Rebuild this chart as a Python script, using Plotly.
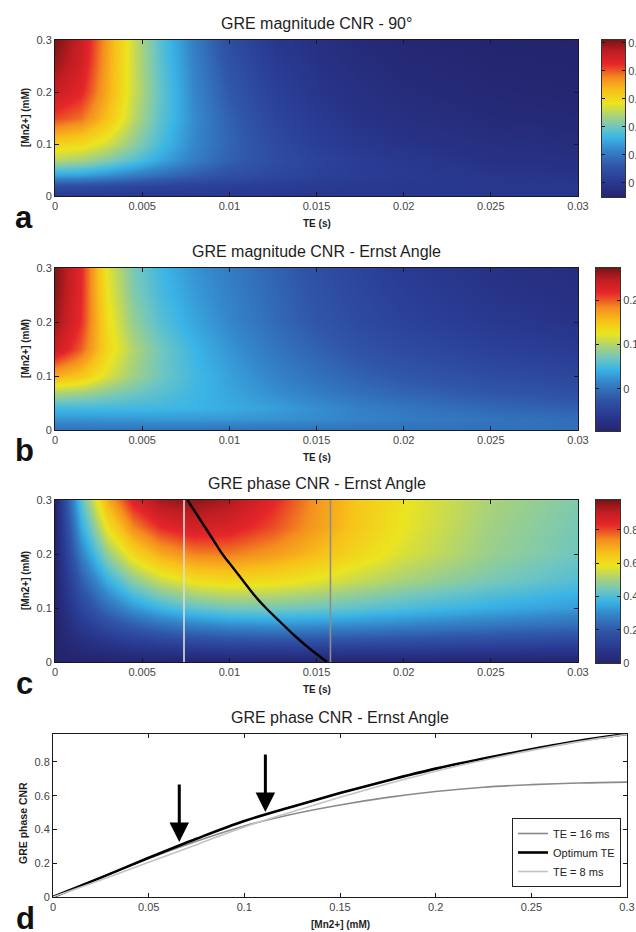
import plotly.graph_objects as go

W, H = 636, 932

# ---- sampled CNR maps: rows = [Mn2+] (mM), columns = TE (s) ----
TE_S = [0, 0.0015, 0.003, 0.0045, 0.006, 0.008, 0.01, 0.0125, 0.015, 0.0175, 0.02, 0.025, 0.03]
MN_MM = [0, 0.02, 0.04, 0.07, 0.1, 0.15, 0.2, 0.25, 0.3]

MAG_CNR_90 = [
    [0, 0, 0, 0, 0, 0, 0, 0, 0, 0, 0, 0, 0],
    [0.045, 0.042, 0.037, 0.032, 0.026, 0.02, 0.015, 0.01, 0.005, 0.003, 0.0, -0.002, -0.004],
    [0.15, 0.145, 0.13, 0.11, 0.092, 0.07, 0.05, 0.035, 0.02, 0.01, 0.005, -0.005, -0.01],
    [0.25, 0.24, 0.215, 0.185, 0.15, 0.11, 0.075, 0.045, 0.025, 0.01, 0.0, -0.015, -0.02],
    [0.31, 0.3, 0.27, 0.225, 0.175, 0.12, 0.08, 0.04, 0.015, 0.0, -0.01, -0.022, -0.028],
    [0.41, 0.39, 0.33, 0.255, 0.19, 0.125, 0.075, 0.03, 0.005, -0.012, -0.022, -0.033, -0.038],
    [0.46, 0.43, 0.35, 0.265, 0.195, 0.12, 0.065, 0.02, -0.005, -0.02, -0.03, -0.04, -0.044],
    [0.49, 0.45, 0.355, 0.265, 0.19, 0.115, 0.055, 0.01, -0.012, -0.027, -0.036, -0.044, -0.047],
    [0.51, 0.46, 0.36, 0.265, 0.185, 0.11, 0.045, 0.0, -0.02, -0.033, -0.042, -0.048, -0.05],
]

MAG_CNR_ERNST = [
    [0, 0, 0, 0, 0, 0, 0, 0, 0, 0, 0, 0, 0],
    [0.025, 0.025, 0.026, 0.027, 0.028, 0.028, 0.027, 0.024, 0.02, 0.014, 0.009, 0.002, -0.003],
    [0.05, 0.05, 0.05, 0.049, 0.048, 0.045, 0.04, 0.032, 0.022, 0.012, 0.004, -0.007, -0.014],
    [0.1, 0.095, 0.083, 0.072, 0.061, 0.048, 0.036, 0.022, 0.009, -0.002, -0.01, -0.022, -0.03],
    [0.165, 0.15, 0.118, 0.092, 0.071, 0.05, 0.033, 0.015, 0.0, -0.012, -0.021, -0.034, -0.042],
    [0.24, 0.2, 0.138, 0.1, 0.072, 0.046, 0.026, 0.005, -0.012, -0.026, -0.036, -0.05, -0.058],
    [0.26, 0.215, 0.133, 0.088, 0.06, 0.036, 0.017, -0.004, -0.022, -0.036, -0.047, -0.061, -0.069],
    [0.268, 0.218, 0.127, 0.08, 0.053, 0.03, 0.013, -0.007, -0.026, -0.041, -0.053, -0.067, -0.075],
    [0.272, 0.22, 0.122, 0.075, 0.048, 0.025, 0.01, -0.01, -0.03, -0.045, -0.058, -0.072, -0.08],
]

PHASE_CNR_ERNST = [
    [0, 0, 0, 0, 0, 0, 0, 0, 0, 0, 0, 0, 0],
    [0, 0.023, 0.041, 0.056, 0.068, 0.079, 0.086, 0.091, 0.092, 0.091, 0.088, 0.082, 0.075],
    [0, 0.049, 0.088, 0.118, 0.142, 0.164, 0.177, 0.185, 0.185, 0.182, 0.176, 0.163, 0.15],
    [0, 0.092, 0.164, 0.218, 0.258, 0.295, 0.315, 0.323, 0.32, 0.31, 0.298, 0.272, 0.25],
    [0, 0.138, 0.243, 0.32, 0.376, 0.422, 0.445, 0.449, 0.437, 0.418, 0.398, 0.36, 0.33],
    [0, 0.208, 0.361, 0.469, 0.542, 0.596, 0.614, 0.604, 0.575, 0.54, 0.505, 0.45, 0.405],
    [0, 0.283, 0.483, 0.616, 0.699, 0.752, 0.758, 0.724, 0.67, 0.615, 0.565, 0.49, 0.44],
    [0, 0.356, 0.594, 0.746, 0.831, 0.874, 0.861, 0.8, 0.72, 0.645, 0.585, 0.5, 0.45],
    [0, 0.421, 0.693, 0.854, 0.937, 0.964, 0.93, 0.84, 0.73, 0.65, 0.59, 0.51, 0.46],
]

# optimum echo time as a function of concentration
OPT_MN = [0, 0.025, 0.05, 0.075, 0.1, 0.125, 0.15, 0.175, 0.2, 0.225, 0.25, 0.275, 0.3]
OPT_TE = [0.0156, 0.0146, 0.0137, 0.0129, 0.0121, 0.0114, 0.0108, 0.0102, 0.0096, 0.0091, 0.0086, 0.0081, 0.0076]

# fixed echo times marked on the phase map
TE_MARKS = [0.0074, 0.0158]
TE_MARK_COLORS = ["#dcdcdc", "#8c8c8c"]

# phase CNR profiles
CURVE_MN = [0, 0.025, 0.05, 0.075, 0.1, 0.125, 0.15, 0.175, 0.2, 0.225, 0.25, 0.275, 0.3]
CNR_TE16 = [0, 0.115, 0.228, 0.33, 0.42, 0.49, 0.545, 0.59, 0.625, 0.65, 0.665, 0.675, 0.68]
CNR_OPT = [0, 0.115, 0.232, 0.345, 0.45, 0.535, 0.615, 0.69, 0.76, 0.82, 0.875, 0.925, 0.965]
CNR_TE8 = [0, 0.1, 0.205, 0.31, 0.415, 0.505, 0.59, 0.67, 0.745, 0.81, 0.868, 0.92, 0.963]

ARROW_MN = [0.066, 0.111]
ARROW_TIP = [0.325, 0.503]
ARROW_TAIL = [0.675, 0.852]

TE_TICKS = [0, 0.005, 0.01, 0.015, 0.02, 0.025, 0.03]
TE_TICK_TEXT = ["0", "0.005", "0.01", "0.015", "0.02", "0.025", "0.03"]
MN_TICKS = [0, 0.1, 0.2, 0.3]
MN_TICK_TEXT = ["0", "0.1", "0.2", "0.3"]

JET = [
    [0.0, "#24246e"], [0.1, "#293a92"], [0.2, "#3056a8"], [0.3, "#3484c8"],
    [0.38, "#3ab4e6"], [0.45, "#70c6c0"], [0.52, "#a9d27a"], [0.6, "#ece41f"],
    [0.68, "#f8c11a"], [0.76, "#f48d1f"], [0.85, "#e6262a"], [0.93, "#bf1d22"],
    [1.0, "#7a1515"],
]

FONT = "Liberation Sans, Arial, sans-serif"


def fx(p):
    return p / W


def fy(p):
    return 1 - p / H


def label(text, x, y, size, color="#1e1e1e", angle=0):
    return dict(text=text, x=fx(x), y=fy(y), xref="paper", yref="paper",
                xanchor="center", yanchor="middle", showarrow=False, textangle=angle,
                font=dict(family=FONT, size=size, color=color))


tick_font = dict(family=FONT, size=11, color="#454545")
frame = dict(showline=True, linecolor="#1a1a1a", linewidth=1, mirror="ticks",
             ticks="inside", ticklen=4, tickcolor="#1a1a1a", showgrid=False,
             zeroline=False, tickfont=tick_font, automargin=False)

panels = [
    dict(letter="a", title="GRE magnitude CNR - 90°", z=MAG_CNR_90, top=40, bottom=196,
         cbx=(602, 625), crange=(-0.05, 0.51), cticks=[0, 0.1, 0.2, 0.3, 0.4, 0.5],
         ctext=["0", "0.1", "0.2", "0.3", "0.4", "0.5"]),
    dict(letter="b", title="GRE magnitude CNR - Ernst Angle", z=MAG_CNR_ERNST, top=268, bottom=430,
         cbx=(596, 620), crange=(-0.095, 0.273), cticks=[0, 0.1, 0.2], ctext=["0", "0.1", "0.2"]),
    dict(letter="c", title="GRE phase CNR - Ernst Angle", z=PHASE_CNR_ERNST, top=500, bottom=662,
         cbx=(596, 620), crange=(0.0, 0.98), cticks=[0, 0.2, 0.4, 0.6, 0.8],
         ctext=["0", "0.2", "0.4", "0.6", "0.8"]),
]

fig = go.Figure()
layout_axes = {}
annotations = []
PLOT_L, PLOT_R = 55, 578

for i, p in enumerate(panels):
    nm, nc = 2 * i + 1, 2 * i + 2
    xm, ym = ("x", "y") if nm == 1 else (f"x{nm}", f"y{nm}")
    xc, yc = f"x{nc}", f"y{nc}"
    lo, hi = p["crange"]

    fig.add_trace(go.Contour(
        x=TE_S, y=MN_MM, z=p["z"], colorscale=JET, zmin=lo, zmax=hi,
        contours=dict(coloring="heatmap", showlines=False), line=dict(width=0),
        showscale=False, hoverinfo="skip", showlegend=False, xaxis=xm, yaxis=ym))

    # colour bar drawn as its own small axis
    fig.add_trace(go.Heatmap(
        x=[0, 1], y=[lo, hi], z=[[lo, lo], [hi, hi]], zsmooth="best",
        colorscale=JET, zmin=lo, zmax=hi, showscale=False, hoverinfo="skip",
        xaxis=xc, yaxis=yc))

    if i == 2:
        for te, col in zip(TE_MARKS, TE_MARK_COLORS):
            fig.add_trace(go.Scatter(x=[te, te], y=[MN_MM[0], MN_MM[-1]], mode="lines",
                                     line=dict(color=col, width=1.6), showlegend=False,
                                     hoverinfo="skip", xaxis=xm, yaxis=ym))
        fig.add_trace(go.Scatter(x=OPT_TE, y=OPT_MN, mode="lines",
                                 line=dict(color="#000000", width=2.4, shape="spline"),
                                 showlegend=False, hoverinfo="skip", xaxis=xm, yaxis=ym))

    kx = "xaxis" if nm == 1 else f"xaxis{nm}"
    ky = "yaxis" if nm == 1 else f"yaxis{nm}"
    layout_axes[kx] = dict(frame, domain=[fx(PLOT_L), fx(PLOT_R)], anchor=ym, range=[0, 0.03],
                           tickvals=TE_TICKS, ticktext=TE_TICK_TEXT)
    layout_axes[ky] = dict(frame, domain=[fy(p["bottom"]), fy(p["top"])], anchor=xm,
                           range=[0, 0.3], tickvals=MN_TICKS, ticktext=MN_TICK_TEXT)
    layout_axes[f"xaxis{nc}"] = dict(domain=[fx(p["cbx"][0]), fx(p["cbx"][1])], anchor=yc,
                                     range=[0, 1], showticklabels=False, ticks="",
                                     showline=True, mirror=True, linecolor="#333",
                                     linewidth=1, showgrid=False, zeroline=False,
                                     automargin=False)
    layout_axes[f"yaxis{nc}"] = dict(domain=[fy(p["bottom"] + 1), fy(p["top"])], anchor=xc,
                                     side="right", range=[lo, hi], tickvals=p["cticks"],
                                     ticktext=p["ctext"], ticks="inside", ticklen=3,
                                     tickcolor="#1a1a1a", mirror="ticks", showline=True,
                                     linecolor="#333", linewidth=1, showgrid=False,
                                     zeroline=False, tickfont=tick_font, automargin=False)

    mid = (PLOT_L + PLOT_R) / 2
    annotations += [
        label(p["title"], mid, p["top"] - 17, 16),
        label("<b>TE (s)</b>", mid, p["bottom"] + 27, 10),
        label("<b>[Mn2+] (mM)</b>", 25, (p["top"] + p["bottom"]) / 2, 10, angle=-90),
        label(f"<b>{p['letter']}</b>", 24, p["bottom"] + 21, 31, color="#111"),
    ]

# ---- panel d: phase CNR profiles ----
D_L, D_R, D_T, D_B = 53, 627, 734, 897
fig.add_trace(go.Scatter(x=CURVE_MN, y=CNR_TE16, mode="lines", name="TE = 16 ms",
                         line=dict(color="#8a8a8a", width=1.6, shape="spline"),
                         xaxis="x7", yaxis="y7"))
fig.add_trace(go.Scatter(x=CURVE_MN, y=CNR_OPT, mode="lines", name="Optimum TE",
                         line=dict(color="#000000", width=2.6, shape="spline"),
                         xaxis="x7", yaxis="y7"))
fig.add_trace(go.Scatter(x=CURVE_MN, y=CNR_TE8, mode="lines", name="TE = 8 ms",
                         line=dict(color="#c4c4c4", width=1.6, shape="spline"),
                         xaxis="x7", yaxis="y7"))

layout_axes["xaxis7"] = dict(frame, domain=[fx(D_L), fx(D_R)], anchor="y7", range=[0, 0.3],
                             tickvals=[0, 0.05, 0.1, 0.15, 0.2, 0.25, 0.3],
                             ticktext=["0", "0.05", "0.1", "0.15", "0.2", "0.25", "0.3"])
layout_axes["yaxis7"] = dict(frame, domain=[fy(D_B), fy(D_T)], anchor="x7", range=[0, 0.965],
                             tickvals=[0, 0.2, 0.4, 0.6, 0.8],
                             ticktext=["0", "0.2", "0.4", "0.6", "0.8"])

for mn, tip, tail in zip(ARROW_MN, ARROW_TIP, ARROW_TAIL):
    annotations.append(dict(x=mn, y=tip, ax=mn, ay=tail, xref="x7", yref="y7",
                            axref="x7", ayref="y7", showarrow=True, arrowhead=2,
                            arrowsize=1.3, arrowwidth=3, arrowcolor="#000", text=""))

annotations += [
    label("GRE phase CNR - Ernst Angle", (D_L + D_R) / 2, D_T - 17, 16),
    label("<b>[Mn2+] (mM)</b>", (D_L + D_R) / 2, D_B + 27, 10),
    label("<b>GRE phase CNR</b>", 23, 823, 10.5, angle=-90),
    label("<b>d</b>", 25, D_B + 21, 31, color="#111"),
]

fig.update_layout(
    template="none",
    width=W, height=H, margin=dict(l=0, r=0, t=0, b=0, pad=0),
    paper_bgcolor="white", plot_bgcolor="white",
    font=dict(family=FONT, color="#222"),
    annotations=annotations,
    legend=dict(x=fx(621), xanchor="right", y=fy(818), yanchor="top",
                bgcolor="white", bordercolor="#222", borderwidth=1,
                font=dict(family=FONT, size=11, color="#222"), tracegroupgap=0,
                itemwidth=30),
    **layout_axes,
)

fig.write_html("out.html")
